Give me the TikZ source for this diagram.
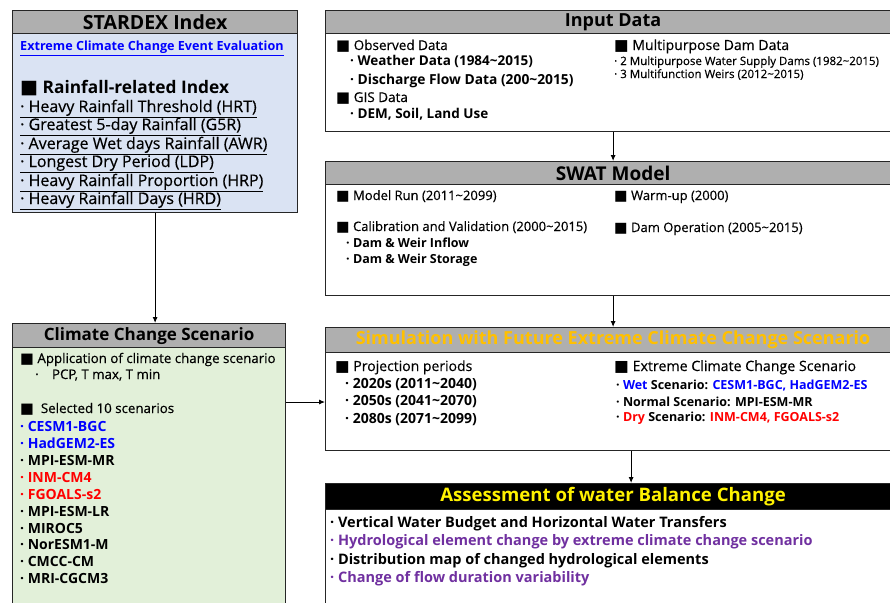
\documentclass[tikz,border=0pt]{standalone}
\usepackage{fontspec}
\setmainfont{Open Sans}[UprightFeatures={FakeBold=0.35}]
\newfontfamily\symfont{DejaVu Sans}
\usetikzlibrary{arrows.meta}
\newcommand{\sq}{\scalebox{1.1}{\symfont■}}
\newcommand{\tld}{\textasciitilde}
\newcommand{\fs}[1]{\fontsize{#1}{#1}\selectfont}
\newcommand{\ul}[1]{\underline{\vphantom{y}#1}}
\definecolor{headgray}{RGB}{175,175,175}
\definecolor{stablue}{RGB}{218,227,243}
\definecolor{ccsgreen}{RGB}{226,240,217}
\definecolor{linkblue}{RGB}{0,0,255}
\definecolor{wetblue}{RGB}{0,0,255}
\definecolor{dryred}{RGB}{255,0,0}
\definecolor{gold}{RGB}{255,192,0}
\definecolor{purp}{RGB}{112,48,160}

\begin{document}
\begin{tikzpicture}[x=1pt, y=-1pt,
    box/.style={draw=black!85, line width=1.2pt, anchor=north west, inner sep=0pt},
    head/.style={box, fill=headgray, font=\bfseries\fs{18}},
    txt/.style={anchor=base west, inner sep=0pt},
    arr/.style={-{Latex[length=6pt,width=5pt]}, line width=0.9pt}]
    \useasboundingbox (0,0) rectangle (890,602);
    \clip (0,0) rectangle (890,602);

    % Boxes
    \node[box, fill=stablue, minimum width=285pt, minimum height=202pt] (stardex) at (12,10) {};
    \node[head, minimum width=285pt, minimum height=23pt, font=\bfseries\fs{19.5}] (stardex-head) at (12,10) {STARDEX Index};
    \node[box, fill=white, minimum width=575pt, minimum height=121pt] (input) at (325,10) {};
    \node[head, minimum width=575pt, minimum height=23pt] (input-head) at (325,10) {Input Data};
    \node[box, fill=white, minimum width=575pt, minimum height=134pt] (swat) at (325,161) {};
    \node[head, minimum width=575pt, minimum height=23pt, font=\bfseries\fs{19}] (swat-head) at (325,161) {SWAT Model};
    \node[box, fill=white, minimum width=575pt, minimum height=123pt] (sim) at (325,327) {};
    \node[head, minimum width=575pt, minimum height=25pt, text=gold] (sim-head) at (325,327) {Simulation with Future Extreme Climate Change Scenario};
    \node[box, fill=white, minimum width=575pt, minimum height=140pt] (assess) at (325,483) {};
    \node[head, fill=black, minimum width=575pt, minimum height=26pt, text=yellow, font=\bfseries\fs{18.6}] (assess-head) at (325,483) {Assessment of water Balance Change};
    \node[box, fill=ccsgreen, minimum width=273pt, minimum height=300pt] (climate) at (12,323) {};
    \node[head, minimum width=273pt, minimum height=24pt, font=\bfseries\fs{17}] (climate-head) at (12,323) {Climate Change Scenario};

    % STARDEX Index
    \node[txt, font=\bfseries\fs{12.6}, text=linkblue] (sd-link) at (20,51) {\ul{Extreme Climate Change Event Evaluation}};
    \node[txt, font=\bfseries\fs{17.3}] (sd-sub) at (20,93) {\sq\ Rainfall-related Index};
    \node[txt, font=\fs{16}] (sd-1) at (20,112) {\ul{· Heavy Rainfall Threshold (HRT)}};
    \node[txt, font=\fs{16}] (sd-2) at (20,130) {\ul{· Greatest 5-day Rainfall (G5R)}};
    \node[txt, font=\fs{16}] (sd-3) at (20,149) {\ul{· Average Wet days Rainfall (AWR)}};
    \node[txt, font=\fs{16}] (sd-4) at (20,167) {\ul{· Longest Dry Period (LDP)}};
    \node[txt, font=\fs{16}] (sd-5) at (20,186) {\ul{· Heavy Rainfall Proportion (HRP)}};
    \node[txt, font=\fs{16}] (sd-6) at (20,204) {\ul{· Heavy Rainfall Days (HRD)}};

    % Input Data
    \node[txt, font=\fs{13.5}] (in-1) at (336,50) {\sq\ Observed Data};
    \node[txt, font=\bfseries\fs{13.5}] (in-2) at (350,66) {· Weather Data (1984\tld2015)};
    \node[txt, font=\bfseries\fs{13.8}] (in-3) at (350,84) {· Discharge Flow Data (200\tld2015)};
    \node[txt, font=\fs{13.5}] (in-4) at (336,102) {\sq\ GIS Data};
    \node[txt, font=\bfseries\fs{13.5}] (in-5) at (350,118) {· DEM, Soil, Land Use};
    \node[txt, font=\fs{14}] (in-6) at (614,50) {\sq\ Multipurpose Dam Data};
    \node[txt, font=\fs{11.5}] (in-7) at (614,65) {· 2 Multipurpose Water Supply Dams (1982\tld2015)};
    \node[txt, font=\fs{11.5}] (in-8) at (614,78) {· 3 Multifunction Weirs (2012\tld2015)};

    % SWAT Model
    \node[txt, font=\fs{13}] (sw-1) at (336,200) {\sq\ Model Run (2011\tld2099)};
    \node[txt, font=\fs{13}] (sw-2) at (336,231) {\sq\ Calibration and Validation (2000\tld2015)};
    \node[txt, font=\bfseries\fs{12.5}] (sw-3) at (346,247) {· Dam \& Weir Inflow};
    \node[txt, font=\bfseries\fs{12.5}] (sw-4) at (346,263) {· Dam \& Weir Storage};
    \node[txt, font=\fs{13}] (sw-5) at (614,200) {\sq\ Warm-up (2000)};
    \node[txt, font=\fs{13}] (sw-6) at (614,232) {\sq\ Dam Operation (2005\tld2015)};

    % Simulation
    \node[txt, font=\fs{14}] (sim-1) at (335,371) {\sq\ Projection periods};
    \node[txt, font=\bfseries\fs{14}] (sim-2) at (345,388) {· 2020s (2011\tld2040)};
    \node[txt, font=\bfseries\fs{14}] (sim-3) at (345,405) {· 2050s (2041\tld2070)};
    \node[txt, font=\bfseries\fs{14}] (sim-4) at (345,423) {· 2080s (2071\tld2099)};
    \node[txt, font=\fs{14.2}] (sim-5) at (614,371) {\sq\ Extreme Climate Change Scenario};
    \node[txt, font=\bfseries\fs{12.5}] (sim-6) at (616,389) {· \textcolor{wetblue}{Wet} Scenario: \textcolor{wetblue}{CESM1-BGC, HadGEM2-ES}};
    \node[txt, font=\bfseries\fs{12.5}] (sim-7) at (616,406) {· Normal Scenario: MPI-ESM-MR};
    \node[txt, font=\bfseries\fs{12.5}] (sim-8) at (616,421) {· \textcolor{dryred}{Dry} Scenario: \textcolor{dryred}{INM-CM4, FGOALS-s2}};

    % Assessment
    \node[txt, font=\bfseries\fs{14.5}] (as-1) at (330,527) {· Vertical Water Budget and Horizontal Water Transfers};
    \node[txt, font=\bfseries\fs{14.5}, text=purp] (as-2) at (330,545) {· Hydrological element change by extreme climate change scenario};
    \node[txt, font=\bfseries\fs{14.5}] (as-3) at (330,564) {· Distribution map of changed hydrological elements};
    \node[txt, font=\bfseries\fs{14.5}, text=purp] (as-4) at (330,582) {· Change of flow duration variability};

    % Climate Change Scenario
    \node[txt, font=\fs{13.3}] (cc-1) at (20,363) {\sq\ Application of climate change scenario};
    \node[txt, font=\fs{13.3}] (cc-2) at (35,379) {·\quad PCP, T max, T min};
    \node[txt, font=\fs{13.3}] (cc-3) at (20,413) {\sq\ \ Selected 10 scenarios};
    \node[txt, font=\bfseries\fs{14}, text=wetblue] (cc-4) at (20,431) {· CESM1-BGC};
    \node[txt, font=\bfseries\fs{14}, text=wetblue] (cc-5) at (20,448) {· HadGEM2-ES};
    \node[txt, font=\bfseries\fs{14}] (cc-6) at (20,465) {· MPI-ESM-MR};
    \node[txt, font=\bfseries\fs{14}, text=dryred] (cc-7) at (20,482) {· INM-CM4};
    \node[txt, font=\bfseries\fs{14}, text=dryred] (cc-8) at (20,499) {· FGOALS-s2};
    \node[txt, font=\bfseries\fs{14}] (cc-9) at (20,516) {· MPI-ESM-LR};
    \node[txt, font=\bfseries\fs{14}] (cc-10) at (20,533) {· MIROC5};
    \node[txt, font=\bfseries\fs{14}] (cc-11) at (20,549) {· NorESM1-M};
    \node[txt, font=\bfseries\fs{14}] (cc-12) at (20,566) {· CMCC-CM};
    \node[txt, font=\bfseries\fs{14}] (cc-13) at (20,583) {· MRI-CGCM3};

    % Connectors
    \draw[arr] (input.south) -- (swat.north);
    \draw[arr] (swat.south) -- (sim.north);
    \draw[arr] ([xshift=18pt]sim.south) -- ([xshift=18pt]assess.north);
    \draw[arr] (stardex.south) -- (stardex.south |- climate.north);
    \draw[arr] (climate.east |- 0,402) -- (sim.west |- 0,402);
\end{tikzpicture}
\end{document}
